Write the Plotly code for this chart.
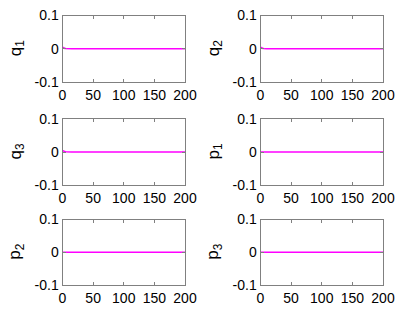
import plotly.graph_objects as go

# Data (time axis and state trajectories)
t = [0, 1, 2, 3, 4, 5, 6, 8, 10, 15, 200]
q1 = [0.005, 0.0035, 0.0024, 0.0016, 0.0011, 0.0007, 0.0004, 0.0002, 0.0001, 0.0, 0.0]
q2 = [0.005, 0.0035, 0.0024, 0.0016, 0.0011, 0.0007, 0.0004, 0.0002, 0.0001, 0.0, 0.0]
q3 = [0.005, 0.0035, 0.0024, 0.0016, 0.0011, 0.0007, 0.0004, 0.0002, 0.0001, 0.0, 0.0]
p1 = [0.0, 0.0, 0.0, 0.0, 0.0, 0.0, 0.0, 0.0, 0.0, 0.0, 0.0]
p2 = [0.0, 0.0, 0.0, 0.0, 0.0, 0.0, 0.0, 0.0, 0.0, 0.0, 0.0]
p3 = [0.0, 0.0, 0.0, 0.0, 0.0, 0.0, 0.0, 0.0, 0.0, 0.0, 0.0]
series = [q1, q2, q3, p1, p2, p3]
labels = ["q<sub>1</sub>", "q<sub>2</sub>", "q<sub>3</sub>", "p<sub>1</sub>", "p<sub>2</sub>", "p<sub>3</sub>"]
xticks = [0, 50, 100, 150, 200]
yticks = [-0.1, 0, 0.1]
yticklabels = ["-0.1", "0", "0.1"]

W, H = 404, 313
cols = [(62.5, 185), (260.5, 383)]
rows = [(15.5, 82), (119, 185), (219.5, 285)]

FAM = "Liberation Sans, Arial, sans-serif"
fig = go.Figure()
font = dict(family=FAM, size=14, color="black")
for i, (ys, lab) in enumerate(zip(series, labels)):
    r, c = divmod(i, 2)
    n = i + 1
    xa = "x" if n == 1 else f"x{n}"
    ya = "y" if n == 1 else f"y{n}"
    fig.add_trace(go.Scatter(x=t, y=ys, mode="lines", line=dict(color="#ff00ff", width=1.6),
                             xaxis=xa, yaxis=ya, showlegend=False))
    x0, x1 = cols[c]
    y0, y1 = rows[r]
    axcommon = dict(showline=True, linecolor="#808080", linewidth=1, mirror="ticks",
                    ticks="inside", ticklen=3, tickcolor="#808080", showgrid=False,
                    zeroline=False, tickfont=font, automargin=False)
    fig.update_layout({
        ("xaxis" if n == 1 else f"xaxis{n}"): dict(domain=[x0 / W, x1 / W], range=[0, 200],
                                                   tickvals=xticks, anchor=ya, **axcommon),
        ("yaxis" if n == 1 else f"yaxis{n}"): dict(domain=[1 - y1 / H, 1 - y0 / H], range=[-0.1, 0.1],
                                                   tickvals=yticks, ticktext=yticklabels,
                                                   anchor=xa, **axcommon),
    })
    fig.add_annotation(text=lab, textangle=-90, xref="paper", yref="paper",
                       x=(x0 - 46) / W, y=1 - ((y0 + y1) / 2) / H, showarrow=False,
                       xanchor="center", yanchor="middle",
                       font=dict(family=FAM, size=17, color="black"))

fig.update_layout(width=W, height=H, margin=dict(l=0, r=0, t=0, b=0),
                  plot_bgcolor="white", paper_bgcolor="white")
fig.write_html("out.html", config={"displayModeBar": False},
               post_script="document.body.style.margin='0';document.body.style.padding='0';")
